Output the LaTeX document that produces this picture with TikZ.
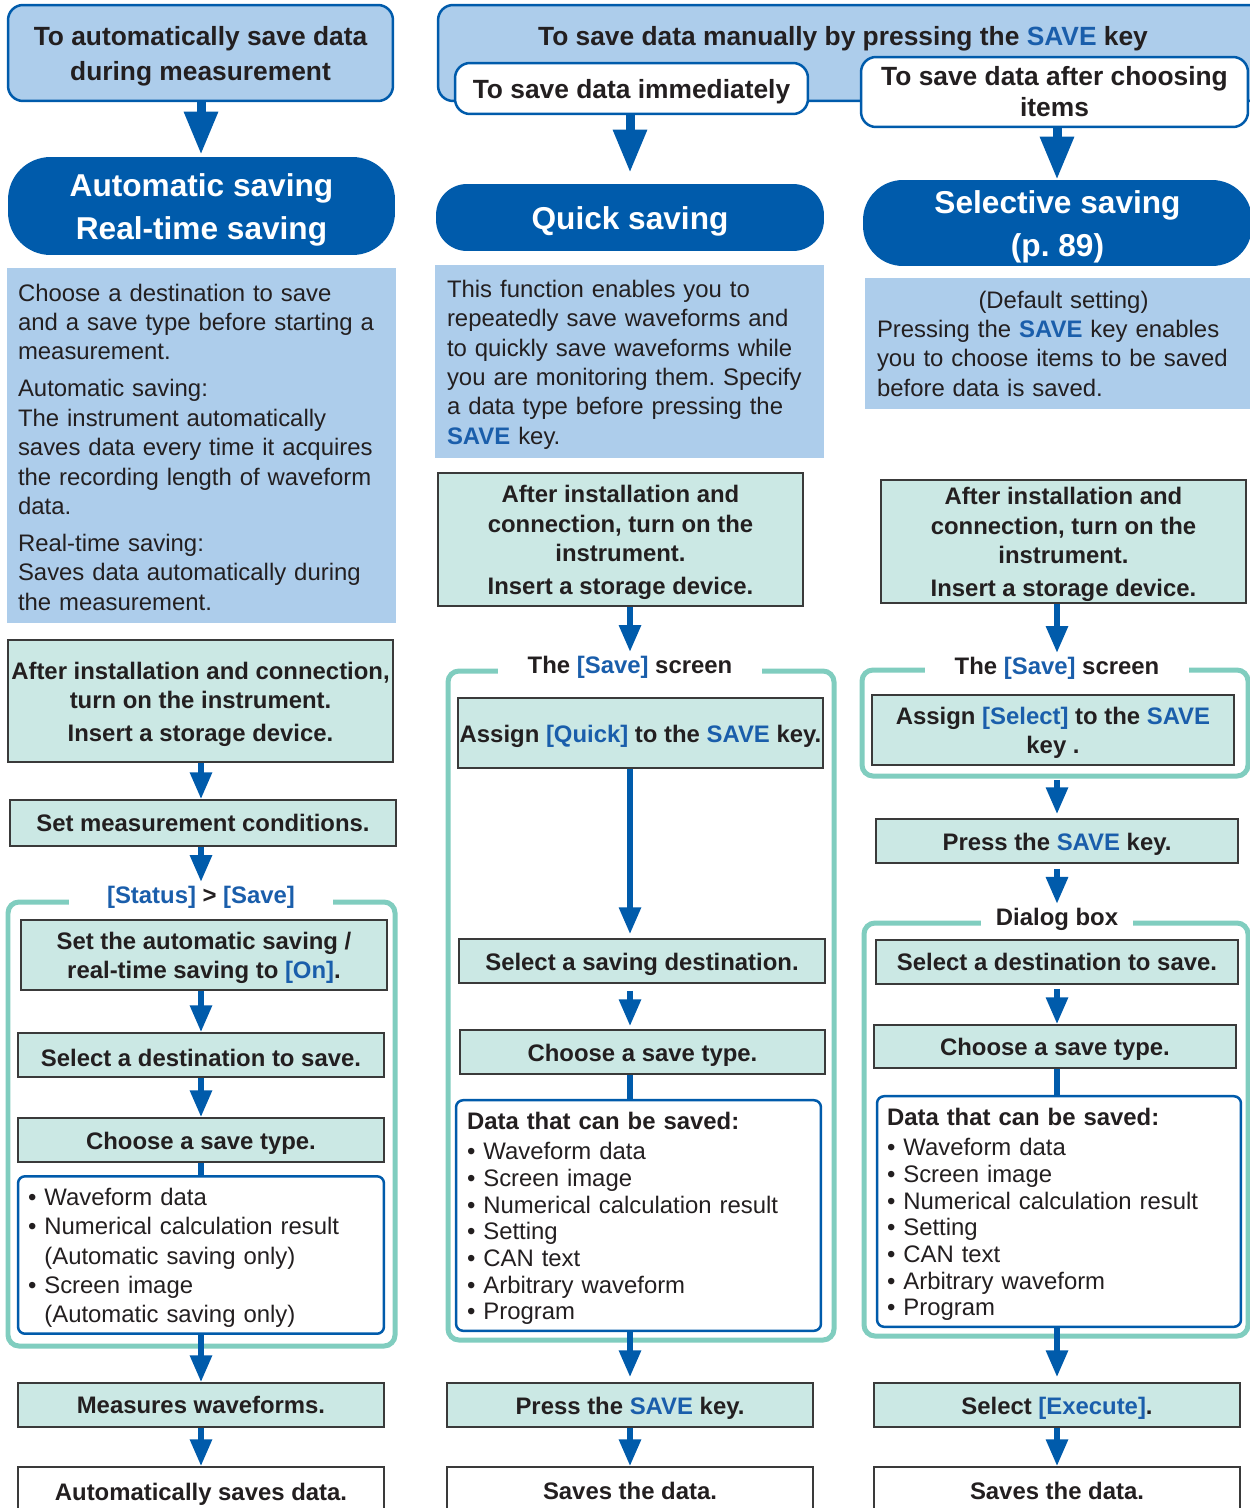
\documentclass[tikz,border=0pt]{standalone}
\usepackage{fontspec}
\setmainfont{Liberation Sans}
\usepackage{xcolor}
\usetikzlibrary{arrows.meta,positioning,calc}
\definecolor{svblue}{HTML}{005BAB}
\definecolor{svkey}{HTML}{1A5EAB}
\definecolor{svlight}{HTML}{ADCDEB}
\definecolor{svpale}{HTML}{CBE8E4}
\definecolor{svteal}{HTML}{80CDBF}
\definecolor{svtext}{HTML}{231F20}
\definecolor{svedge}{HTML}{3A3A3A}
\newcommand{\kw}[1]{\textcolor{svkey}{#1}}
\newcommand{\kwb}[1]{\textcolor{svkey}{\bfseries #1}}
\newcommand{\ts}{\rule{0pt}{0.98em}}
\frenchspacing

\begin{document}
\begin{tikzpicture}[x=0.02cm, y=-0.02cm,
    every node/.style={text=svtext},
    head/.style={draw=svblue, line width=0.05cm, fill=svlight, rounded corners=0.3cm, align=center, inner sep=0pt, font=\fontsize{15}{19.8}\selectfont\bfseries},
    choice/.style={head, fill=white},
    pill/.style={fill=svblue, align=center, inner sep=0pt, text=white, font=\fontsize{18}{24.4}\selectfont\bfseries},
    desc/.style={fill=svlight, align=left, font=\fontsize{13.6}{16.7}\selectfont},
    stepbox/.style={draw=svedge, line width=0.03cm, fill=svpale, align=center, inner sep=0pt, font=\fontsize{13.6}{16.7}\selectfont\bfseries},
    endbox/.style={stepbox, fill=white},
    listbox/.style={draw=svblue, line width=0.05cm, fill=white, rounded corners=0.14cm, align=left, font=\fontsize{13.6}{15.2}\selectfont},
    grpframe/.style={draw=svteal, line width=0.1cm, rounded corners=0.22cm},
    framelab/.style={fill=white, inner xsep=0.6cm, inner ysep=2pt, font=\fontsize{13.6}{16.7}\selectfont\bfseries},
    arrow/.style={draw=svblue, line width=0.12cm, -{Triangle[width=0.42cm,length=0.54cm]}},
    bigarrow/.style={draw=svblue, line width=0.18cm, -{Triangle[width=0.64cm,length=0.86cm]}},
    link/.style={draw=svblue, line width=0.12cm}
  ]
    \useasboundingbox (0,0) rectangle (1250,1508);
    \coordinate (ax1) at (201,0);
    \coordinate (ax2) at (630,0);
    \coordinate (ax3) at (1057,0);

    \draw[grpframe] (8,902) rectangle (395,1346);
    \draw[grpframe] (448,671) rectangle (834,1340);
    \draw[grpframe] (862,670) rectangle (1248,776);
    \draw[grpframe] (864,923) rectangle (1248,1336);

    \node[head, minimum width=7.7cm, minimum height=1.92cm] (head1) at (200.5,53) {\ts To automatically save data\\during measurement};
    \node[pill, minimum width=7.74cm, minimum height=1.96cm, rounded corners=0.85cm] (pill1) at (201.5,206) {\ts Automatic saving\\Real-time saving};
    \node[desc, minimum width=7.78cm, minimum height=7.1cm, text width=7.34cm] (desc1) at (201.5,445.5) {\rule{0pt}{0.86em}Choose a destination to save\\and a save type before starting a\\measurement.\\[4.5pt]Automatic saving:\\The instrument automatically\\saves data every time it acquires\\the recording length of waveform\\data.\\[4.5pt]Real-time saving:\\Saves data automatically during\\the measurement.};
    \node[stepbox, minimum width=7.7cm, minimum height=2.44cm] (inst1) at (200.5,701) {\ts After installation and connection,\\turn on the instrument.\\[2pt]Insert a storage device.};
    \node[stepbox, minimum width=7.72cm, minimum height=0.92cm] (cond1) at (203,823) {Set measurement conditions.};
    \node[framelab, inner xsep=0.76cm] (lab1) at (201,897) {\kw{[Status]} > \kw{[Save]}};
    \node[stepbox, minimum width=7.32cm, minimum height=1.4cm] (on1) at (204,955) {\ts Set the automatic saving /\\real-time saving to \kw{[On]}.};
    \node[stepbox, minimum width=7.32cm, minimum height=0.88cm] (dest1) at (201,1055) {\ts Select a destination to save.};
    \node[stepbox, minimum width=7.32cm, minimum height=0.88cm] (type1) at (201,1140) {\ts Choose a save type.};
    \node[listbox, minimum width=7.32cm, minimum height=3.12cm, text width=6.92cm, font=\fontsize{13.6}{16.7}\selectfont] (list1) at (201,1255) {\ts• Waveform data\\• Numerical calculation result\\\hphantom{• }(Automatic saving only)\\• Screen image\\\hphantom{• }(Automatic saving only)};
    \node[stepbox, minimum width=7.32cm, minimum height=0.88cm] (meas1) at (201,1405) {Measures waveforms.};
    \node[endbox, minimum width=7.32cm, minimum height=0.96cm] (auto1) at (201,1491) {\ts Automatically saves data.};

    \node[head, minimum width=16.5cm, minimum height=1.92cm] (manual) at (850.5,53) {};
    \node[font=\fontsize{15}{19.8}\selectfont\bfseries] (manualtxt) at (843,39) {To save data manually by pressing the \kw{SAVE} key};
    \node[choice, minimum width=7.06cm, minimum height=1.02cm] (imm2) at (631.5,88.5) {\ts To save data immediately};
    \node[pill, minimum width=7.76cm, minimum height=1.34cm, rounded corners=0.62cm] (quick2) at (630,217.5) {\ts Quick saving};
    \node[desc, minimum width=7.78cm, minimum height=3.86cm, text width=7.3cm] (desc2) at (629.5,361.5) {\ts This function enables you to\\repeatedly save waveforms and\\to quickly save waveforms while\\you are monitoring them. Specify\\a data type before pressing the\\\kwb{SAVE} key.};
    \node[stepbox, minimum width=7.3cm, minimum height=2.66cm] (inst2) at (620.5,539.5) {\ts After installation and\\connection, turn on the\\instrument.\\[2pt]Insert a storage device.};
    \node[framelab] (lab2) at (630,667) {The \kw{[Save]} screen};
    \node[stepbox, minimum width=7.3cm, minimum height=1.4cm] (assign2) at (640.5,733) {\ts Assign \kw{[Quick]} to the \kw{SAVE} key.};
    \node[stepbox, minimum width=7.32cm, minimum height=0.88cm] (sel2) at (642,961) {\ts Select a saving destination.};
    \node[stepbox, minimum width=7.3cm, minimum height=0.88cm] (type2) at (642.5,1052) {\ts Choose a save type.};
    \node[listbox, minimum width=7.3cm, minimum height=4.54cm, text width=6.86cm] (list2) at (638.5,1215.5) {\ts\textbf{Data that can be saved:}\\[2pt]• Waveform data\\• Screen image\\• Numerical calculation result\\• Setting\\• CAN text\\• Arbitrary waveform\\• Program};
    \node[stepbox, minimum width=7.32cm, minimum height=0.88cm] (press2) at (630,1405) {\ts Press the \kw{SAVE} key.};
    \node[endbox, minimum width=7.32cm, minimum height=0.96cm] (saved2) at (630,1491) {Saves the data.};

    \node[choice, minimum width=7.74cm, minimum height=1.4cm, font=\fontsize{15}{17.6}\selectfont\bfseries] (after3) at (1054.5,92) {To save data after choosing\\items};
    \node[pill, minimum width=7.78cm, minimum height=1.72cm, rounded corners=0.8cm] (pill3) at (1057.5,223) {\ts Selective saving\\(p. 89)};
    \node[desc, minimum width=7.94cm, minimum height=2.62cm, text width=7.46cm] (desc3) at (1063.5,343.5) {\makebox[7.46cm]{(Default setting)}\\Pressing the \kwb{SAVE} key enables\\you to choose items to be saved\\before data is saved.};
    \node[stepbox, minimum width=7.3cm, minimum height=2.46cm] (inst3) at (1063.5,541.5) {\ts After installation and\\connection, turn on the\\instrument.\\[2pt]Insert a storage device.};
    \node[framelab] (lab3a) at (1057,668) {The \kw{[Save]} screen};
    \node[stepbox, minimum width=7.24cm, minimum height=1.4cm] (assign3) at (1053,730) {\ts Assign \kw{[Select]} to the \kw{SAVE}\\key .};
    \node[stepbox, minimum width=7.24cm, minimum height=0.88cm] (press3) at (1057,841) {\ts Press the \kw{SAVE} key.};
    \node[framelab, inner xsep=0.3cm] (lab3b) at (1057,919) {Dialog box};
    \node[stepbox, minimum width=7.24cm, minimum height=0.88cm] (dest3) at (1057,962) {Select a destination to save.};
    \node[stepbox, minimum width=7.24cm, minimum height=0.86cm] (type3) at (1055,1046.5) {\ts Choose a save type.};
    \node[listbox, minimum width=7.28cm, minimum height=4.54cm, text width=6.88cm] (list3) at (1059,1211.5) {\ts\textbf{Data that can be saved:}\\[2pt]• Waveform data\\• Screen image\\• Numerical calculation result\\• Setting\\• CAN text\\• Arbitrary waveform\\• Program};
    \node[stepbox, minimum width=7.32cm, minimum height=0.88cm] (exec3) at (1057,1405) {\ts Select \kw{[Execute]}.};
    \node[endbox, minimum width=7.32cm, minimum height=0.96cm] (saved3) at (1057,1491) {Saves the data.};

    \draw[bigarrow, shorten >=0.04cm] (head1.south -| ax1) -- (pill1.north -| ax1);
    \draw[arrow] (inst1.south -| ax1) -- (cond1.north -| ax1);
    \draw[arrow] (cond1.south -| ax1) -- (lab1.north);
    \draw[arrow] (on1.south -| ax1) -- (dest1.north -| ax1);
    \draw[arrow] (dest1.south -| ax1) -- (type1.north -| ax1);
    \draw[link] (type1.south -| ax1) -- (list1.north -| ax1);
    \draw[arrow] (list1.south -| ax1) -- (meas1.north -| ax1);
    \draw[arrow] (meas1.south -| ax1) -- (auto1.north -| ax1);

    \draw[bigarrow, shorten >=0.22cm] (imm2.south -| ax2) -- (quick2.north -| ax2);
    \draw[arrow] (inst2.south -| ax2) -- (lab2.north);
    \draw[arrow, shorten >=0.08cm] (assign2.south -| ax2) -- (sel2.north -| ax2);
    \draw[arrow, shorten <=0.14cm, shorten >=0.06cm] (sel2.south -| ax2) -- (type2.north -| ax2);
    \draw[link] (type2.south -| ax2) -- (list2.north -| ax2);
    \draw[arrow, shorten >=0.1cm] (list2.south -| ax2) -- (press2.north -| ax2);
    \draw[arrow] (press2.south -| ax2) -- (saved2.north -| ax2);

    \draw[bigarrow] (after3.south -| ax3) -- (pill3.north -| ax3);
    \draw[arrow] (inst3.south -| ax3) -- (lab3a.north);
    \draw[arrow, shorten <=0.28cm, shorten >=0.08cm] (assign3.south -| ax3) -- (press3.north -| ax3);
    \draw[arrow, shorten <=0.1cm] (press3.south -| ax3) -- (lab3b.north);
    \draw[arrow, shorten <=0.08cm] (dest3.south -| ax3) -- (type3.north -| ax3);
    \draw[link] (type3.south -| ax3) -- (list3.north -| ax3);
    \draw[arrow, shorten >=0.1cm] (list3.south -| ax3) -- (exec3.north -| ax3);
    \draw[arrow] (exec3.south -| ax3) -- (saved3.north -| ax3);
  \end{tikzpicture}
\end{document}
